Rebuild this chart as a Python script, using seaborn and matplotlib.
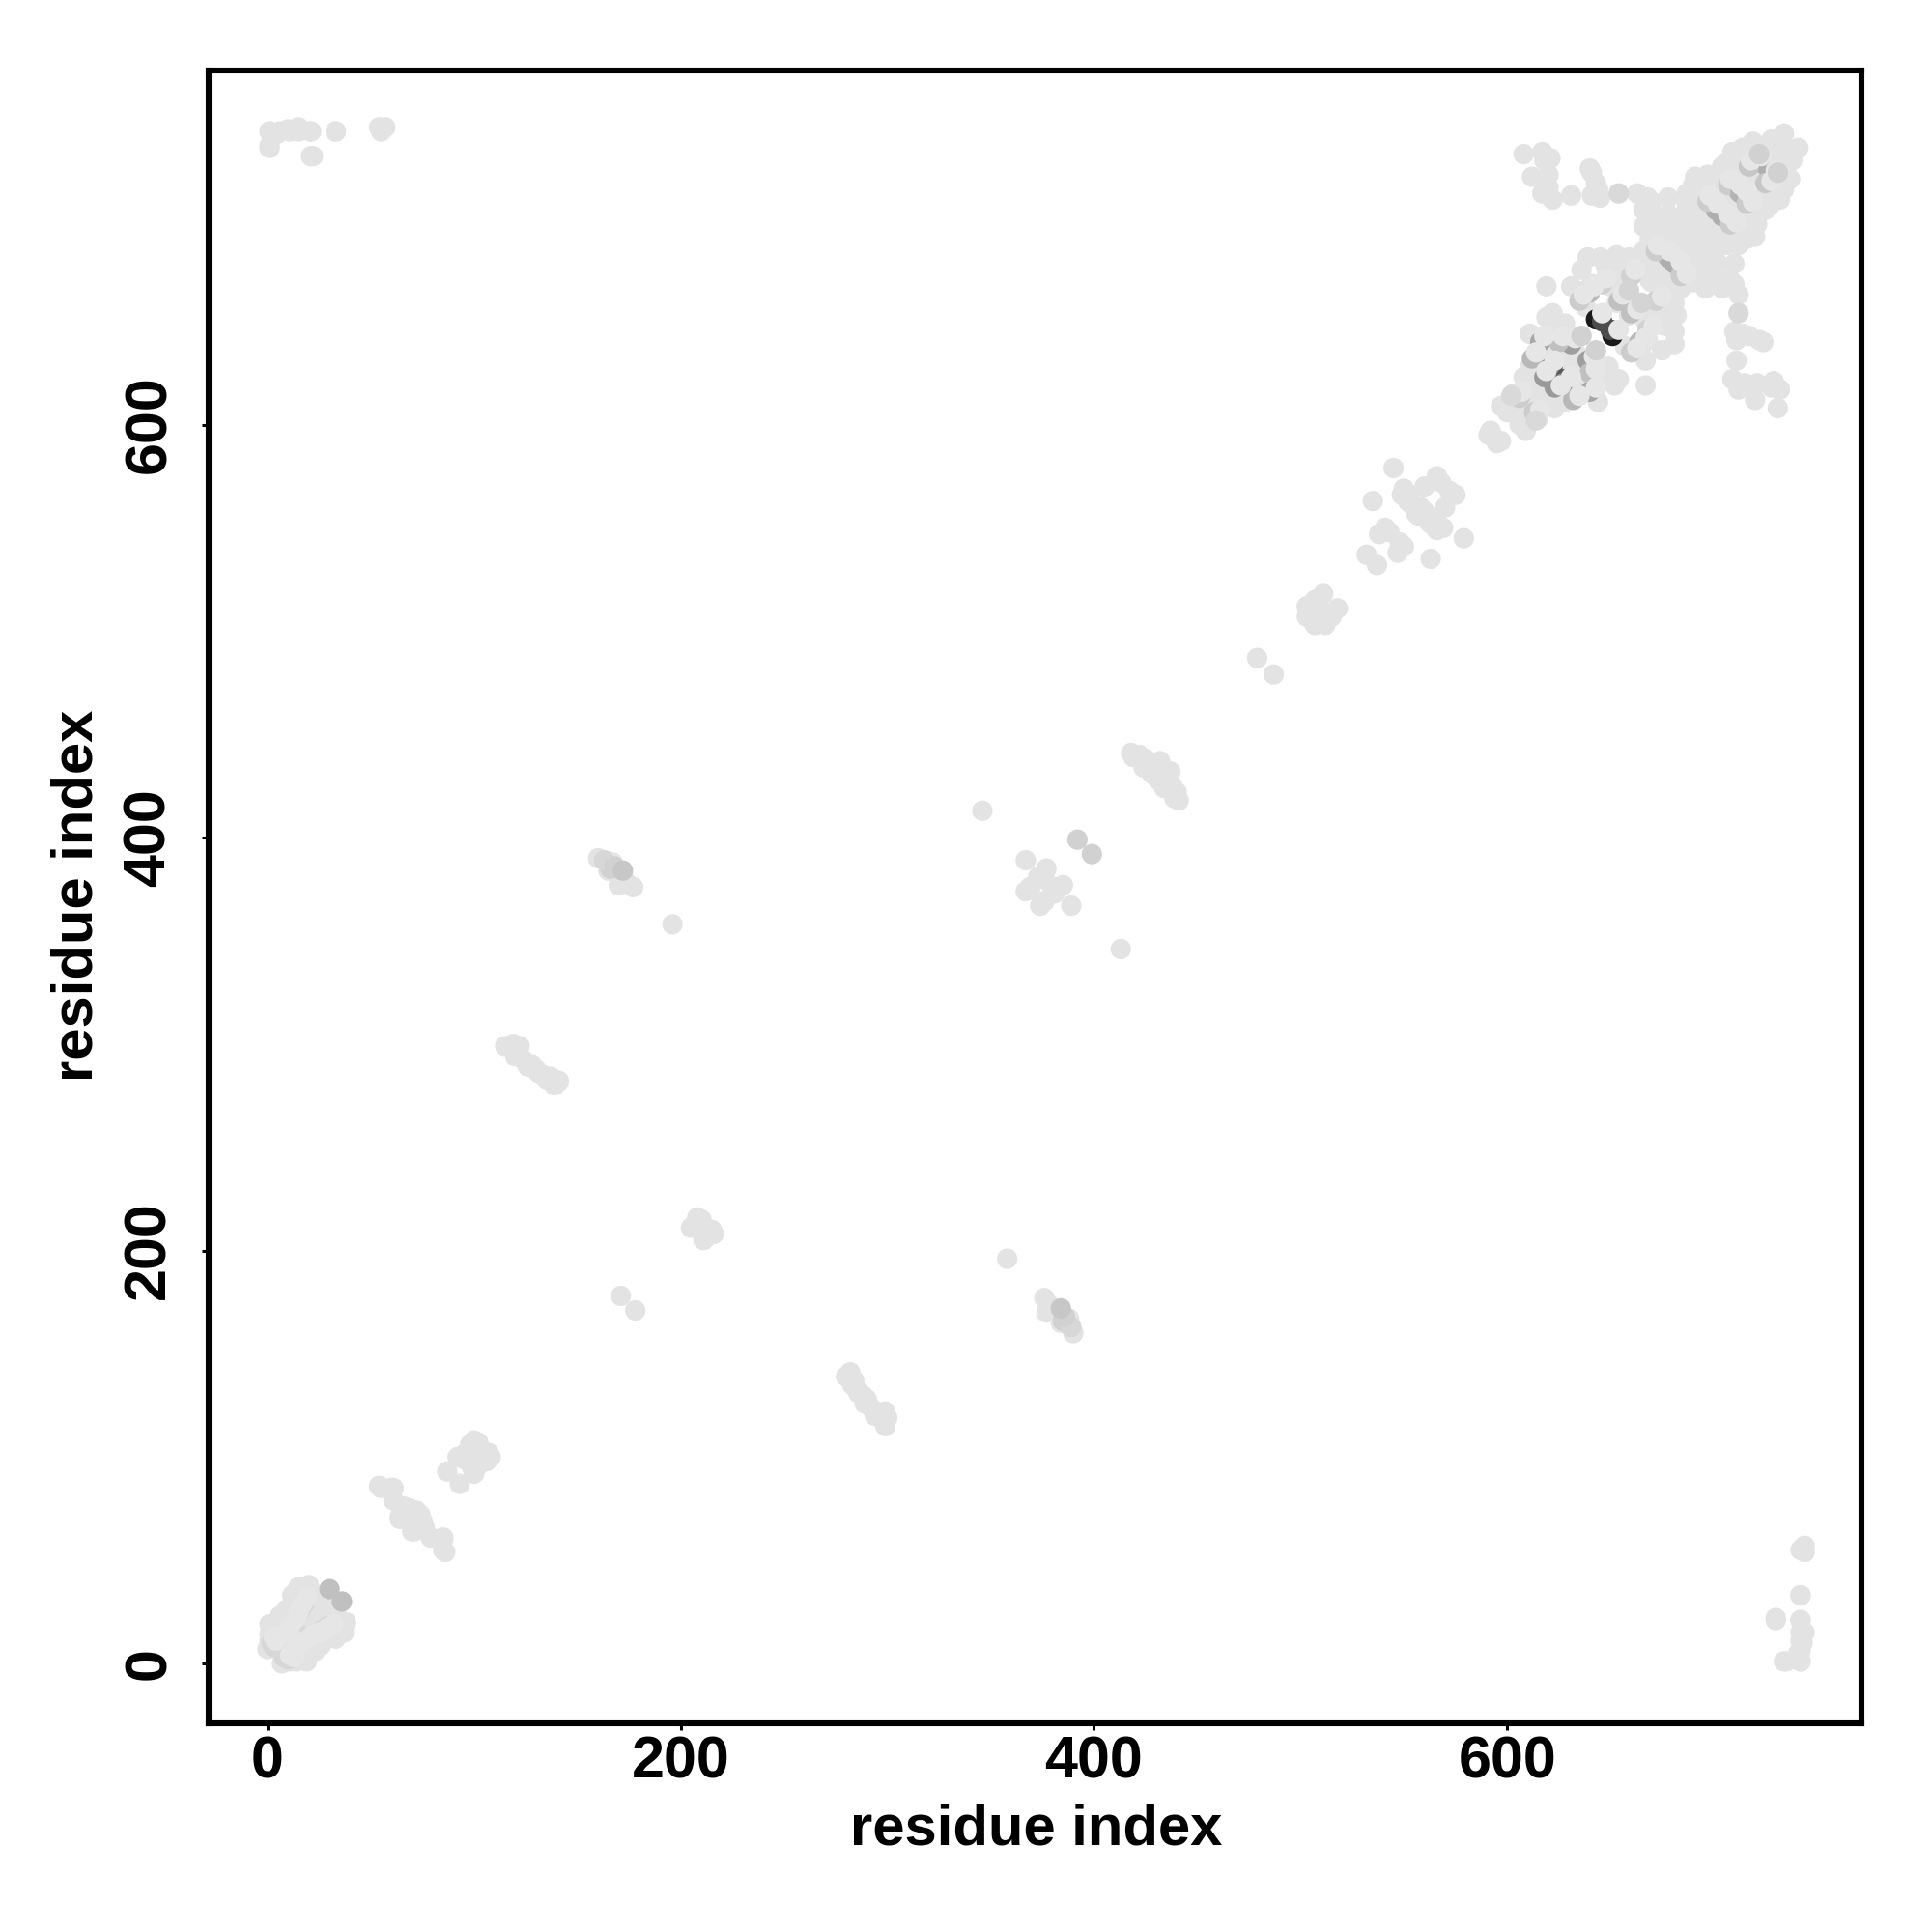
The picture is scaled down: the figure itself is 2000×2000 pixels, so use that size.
import matplotlib
matplotlib.use("Agg")
import matplotlib.pyplot as plt
import pandas as pd
import seaborn as sns

# contacts (residue i, residue j), upper triangle of a symmetric map
pale_i = [
    1, 5, 10, 15, 21, 33, 54, 57, 1, 22, 55, 33, 21, 21, 15, 11, 6, 1, 1,
    1, 3, 1, 1, 1, 0, 3, 5, 6, 7, 9, 5, 8, 9, 12, 14, 17,
    12, 15, 20, 26, 18, 12, 6, 23, 15, 13, 20, 18, 22, 16, 20, 24, 9, 14, 19, 10, 21, 12,
    54, 60, 61, 64, 69, 64, 61, 55, 66, 68, 72,
    87, 92, 96, 100, 98, 102, 95, 102,
    115, 119, 122, 121, 123, 125, 128, 130, 133, 137, 141, 120, 126, 131, 135, 139,
    160, 165, 165, 170, 174, 177, 170, 196, 171,
    205, 206, 208, 210,
    346, 367, 369, 373, 377, 376, 375, 374, 369,
    418, 422, 425, 427, 432, 430, 424, 428, 419,
    479, 503, 511, 507, 505, 510, 503,
    532, 535, 538, 541, 545, 550, 552, 553, 556, 566, 568, 549, 553, 558, 560, 543,
    591, 592, 597, 600, 600, 603, 605, 606, 608, 609, 611, 611, 613, 614, 615, 619, 619, 617,
    608, 617, 621, 612, 620, 617, 622, 631, 641, 643, 641, 645, 663, 668, 678,
    618, 620, 640, 644,
    666, 666, 672, 678, 681, 669, 675, 681, 667, 673, 666, 672, 664,
    687, 691, 697, 695, 701, 706, 709, 714, 719, 728, 734, 733, 728, 720, 712, 706, 714, 701,
    694, 691, 696, 689, 687, 687, 695, 705, 709, 717, 731, 725, 683, 680,
    639, 645, 653, 659, 666, 631, 641, 650, 619, 659, 669, 653, 655,
    622, 619, 628, 611, 619, 625, 623, 613, 619, 633, 627, 621, 632, 627, 638, 638,
    690, 692, 700, 704, 698, 685, 675, 670, 672, 678, 662, 655, 648, 660, 636,
    655, 665, 672, 680, 683, 712, 717, 722, 725, 704, 690,
]
pale_j = [
    742, 741, 743, 744, 742, 742, 744, 744, 735, 730, 742, 742, 742, 730, 742, 742, 742, 734, 742,
    19, 18, 14, 11, 8, 7, 15, 13, 17, 12, 11, 20, 20, 16, 15, 18, 21,
    33, 37, 38, 32, 27, 21, 23, 25, 23, 29, 36, 34, 34, 30, 30, 30, 26, 25, 24, 23, 27, 27,
    86, 85, 79, 71, 75, 70, 85, 85, 76, 72, 74,
    93, 100, 102, 108, 106, 107, 99, 103,
    299, 300, 299, 296, 293, 291, 290, 288, 285, 284, 282, 294, 289, 286, 283, 280,
    390, 387, 384, 383, 378, 376, 377, 358, 178,
    211, 212, 216, 215,
    413, 389, 376, 381, 385, 381, 380, 367, 375,
    441, 440, 438, 435, 437, 432, 434, 431, 439,
    487, 512, 518, 515, 506, 510, 507,
    537, 563, 547, 550, 579, 569, 563, 562, 557, 575, 572, 566, 566, 560, 570, 548,
    595, 597, 609, 610, 606, 615, 606, 610, 623, 618, 612, 628, 632, 621, 617, 632, 635, 622,
    731, 732, 729, 720, 721, 712, 709, 711, 722, 717, 711, 710, 712, 710, 710,
    728, 715, 724, 714,
    704, 696, 701, 702, 696, 690, 690, 690, 682, 681, 677, 674, 674,
    712, 720, 721, 712, 716, 727, 732, 734, 737, 738, 741, 739, 731, 723, 723, 713, 716, 706,
    702, 696, 697, 690, 706, 696, 706, 720, 721, 727, 732, 732, 685, 685,
    681, 681, 682, 681, 684, 667, 668, 667, 667, 660, 670, 659, 663,
    654, 652, 649, 644, 643, 646, 632, 632, 635, 635, 638, 622, 636, 628, 657, 665,
    716, 708, 712, 710, 700, 700, 695, 708, 686, 692, 680, 672, 676, 672, 675,
    680, 680, 679, 679, 700, 728, 730, 734, 728, 725, 710,
]

under_i = [645, 643, 646, 701, 712, 722, 678, 640, 654, 622, 620, 616, 631,
           697, 707, 717, 672, 635, 646, 612, 618, 606, 660, 625,
           2, 3, 5, 8, 10, 14, 18, 13, 16, 166]
under_j = [652, 651, 650, 704, 713, 727, 681, 664, 660, 628, 627, 640, 639,
           708, 716, 725, 684, 660, 668, 632, 623, 613, 672, 640,
           10, 8, 10, 12, 15, 22, 29, 19, 26, 385]
under_shade = [0.03, 0.1, 0.3, 0.68, 0.7, 0.68, 0.68, 0.72, 0.75, 0.35, 0.55, 0.65, 0.62,
               0.8, 0.8, 0.78, 0.8, 0.8, 0.82, 0.72, 0.6, 0.8, 0.82, 0.75,
               0.84, 0.84, 0.84, 0.84, 0.84, 0.84, 0.84, 0.84, 0.84, 0.82]

cover_i = [646, 702, 713, 723, 679, 642, 656, 623, 618, 633,
           698, 708, 718, 673, 637, 648, 614, 619, 607, 662, 627,
           3, 4, 6, 9, 11, 15, 19, 14, 17, 167]
cover_j = [654, 707, 716, 730, 684, 667, 663, 631, 643, 642,
           711, 719, 728, 687, 663, 671, 635, 626, 616, 675, 643,
           13, 11, 13, 15, 18, 25, 32, 22, 29, 388]

top_i = [30, 654, 722, 659, 636, 602, 163, 168, 172, 392]
top_j = [36, 712, 731, 665, 643, 614, 389, 386, 384, 399]
top_shade = [0.75, 0.85, 0.82, 0.83, 0.82, 0.85, 0.84, 0.82, 0.78, 0.82]

pale_shade = 0.89
cover_shade = 0.9
tick_values = [0, 200, 400, 600]
axis_title = "residue index"
x_limits = (-28.5, 771.5)
y_limits = (-29, 771.5)


def mirrored(i, j, shade):
    return pd.DataFrame({"x": list(i) + list(j), "y": list(j) + list(i), "shade": list(shade) * 2})


frame = pd.concat([
    mirrored(pale_i, pale_j, [pale_shade] * len(pale_i)),
    mirrored(under_i, under_j, under_shade),
    mirrored(cover_i, cover_j, [cover_shade] * len(cover_i)),
    mirrored(top_i, top_j, top_shade),
], ignore_index=True)

sns.set_theme(style="white")
plt.rcParams["font.family"] = ["Liberation Sans", "DejaVu Sans"]
plt.rcParams["font.weight"] = "bold"

fig = plt.figure(figsize=(10, 10), dpi=200)
ax = fig.add_axes([216 / 2000, 216 / 2000, 1711 / 2000, 1711 / 2000])
sns.scatterplot(data=frame, x="x", y="y", hue="shade", palette="gray", hue_norm=(0, 1),
                s=58, linewidth=0, legend=False, ax=ax, clip_on=True)
ax.set_xlim(*x_limits)
ax.set_ylim(*y_limits)
ax.set_xticks(tick_values)
ax.set_yticks(tick_values)
ax.tick_params(axis="x", length=2.6, width=1.1, color="black", labelsize=22, labelcolor="black", pad=2,
               bottom=True)
ax.tick_params(axis="y", length=2.6, width=1.1, color="black", labelsize=22, labelcolor="black", pad=9,
               left=True)
for label in ax.get_yticklabels():
    label.set_rotation(90)
    label.set_va("center")
for label in ax.get_xticklabels() + ax.get_yticklabels():
    label.set_fontweight("bold")
for spine in ax.spines.values():
    spine.set_visible(True)
    spine.set_linewidth(2.2)
    spine.set_color("black")
ax.set_xlabel(axis_title, fontsize=21.5, fontweight="bold", color="black")
ax.set_ylabel(axis_title, fontsize=21.5, fontweight="bold", color="black")
ax.xaxis.set_label_coords((1073 - 216) / 1711, -(1894 - 1784) / 1711)
ax.yaxis.set_label_coords(-(216 - 80) / 1711, (1784 - 927) / 1711)
ax.xaxis.label.set_va("center")
ax.yaxis.label.set_va("center")
fig.savefig("out.png", dpi=200, facecolor="white")
